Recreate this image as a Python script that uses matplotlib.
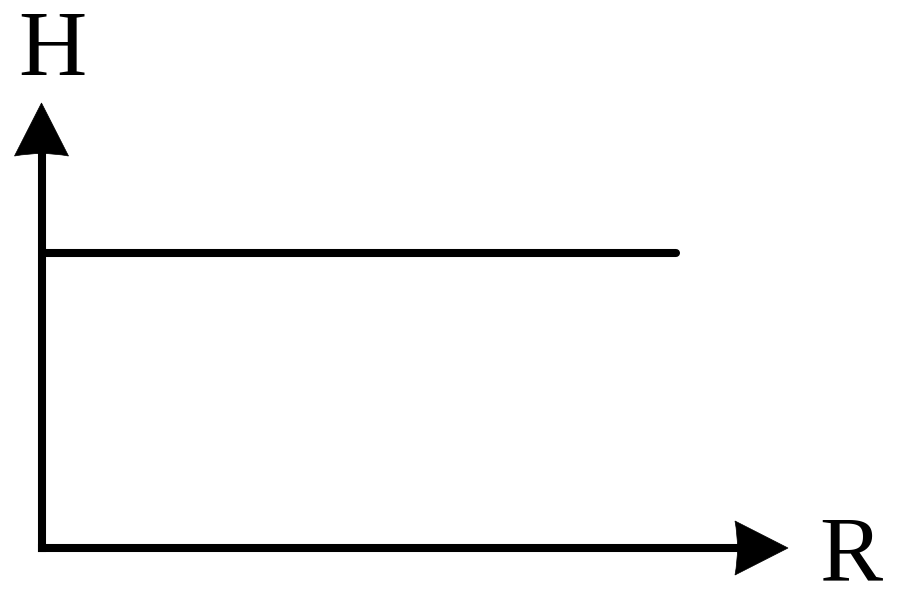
import numpy as np
import matplotlib.pyplot as plt
from matplotlib.path import Path
from matplotlib.patches import PathPatch
from matplotlib.transforms import ScaledTranslation

# schematic: H stays constant as R grows
r_values = [0.0, 0.850]
h_values = [0.663, 0.663]
axis_labels = ["R", "H"]

W, H = 900, 605
fig = plt.figure(figsize=(W / 100, H / 100), dpi=100)
ax = fig.add_axes([41.5 / W, (H - 548) / H, 746.5 / W, 445 / H])
ax.set_xlim(0, 1)
ax.set_ylim(0, 1)
ax.axis("off")

lw = 5.8  # ~8 px


def arrow_head(x, y, angle):
    # stealth-like head with a slightly concave back, sizes in inches
    L, hw, dent = 0.53, 0.27, 0.05
    pts = np.array([[0, 0], [-L, hw], [-L + dent, 0], [-L, -hw]])
    c, s = np.cos(angle), np.sin(angle)
    pts = pts @ np.array([[c, s], [-s, c]])
    codes = [Path.MOVETO, Path.LINETO, Path.CURVE3, Path.CURVE3, Path.CLOSEPOLY]
    verts = [pts[0], pts[1], pts[2], pts[3], pts[0]]
    tr = fig.dpi_scale_trans + ScaledTranslation(x, y, ax.transAxes)
    ax.add_patch(PathPatch(Path(verts, codes), facecolor="black", edgecolor="black",
                           lw=0.5, transform=tr, clip_on=False))


# axes shafts
ax.plot([0, 0.96], [0, 0], color="black", lw=lw, solid_capstyle="projecting", clip_on=False)
ax.plot([0, 0], [0, 0.94], color="black", lw=lw, solid_capstyle="projecting", clip_on=False)
arrow_head(1.0, 0.0, 0.0)
arrow_head(0.0, 1.0, np.pi / 2)

# the constant line
ax.plot(r_values, h_values, color="black", lw=lw, solid_capstyle="round", clip_on=False)

font = dict(family="Liberation Serif", fontsize=68, color="black")
fig.text(851 / W, (H - 580) / H, axis_labels[0], ha="center", va="baseline", **font)
fig.text(52.5 / W, (H - 75) / H, axis_labels[1], ha="center", va="baseline", **font)

fig.savefig("out.png", dpi=100, facecolor="white")
